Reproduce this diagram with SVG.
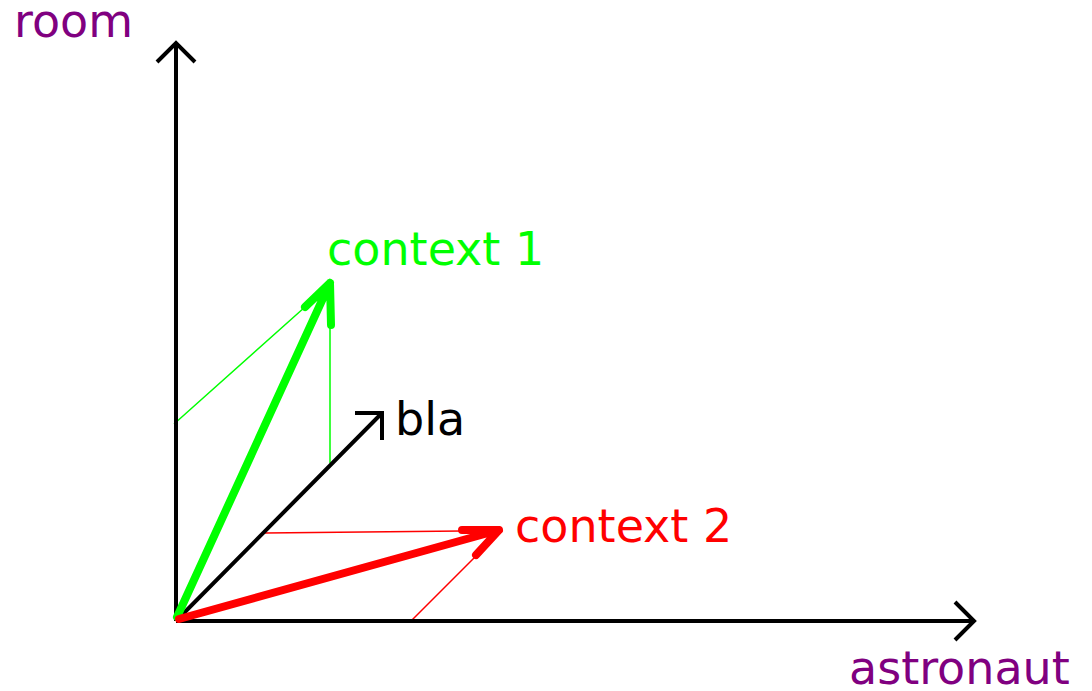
<svg xmlns="http://www.w3.org/2000/svg" width="1092" height="691" viewBox="0 0 1092 691">
<style>
text{font-family:"DejaVu Sans",sans-serif;font-size:46px}
.ax{fill:none;stroke:#000;stroke-width:4}
.thin{fill:none;stroke-width:1.5}
.big{fill:none;stroke-width:8;stroke-linecap:round;stroke-linejoin:round}
</style>
<rect width="1092" height="691" fill="#fff"/>
<g id="connectors">
<path class="thin" stroke="#00ff00" d="M174,424 L305,307 M330,463 L330,326"/>
<path class="thin" stroke="#ff0000" d="M265,533 L462,531 M411,621 L477,555"/>
<path class="ax" d="M176,621 L176,43 M157,62 L176,43 L195,62"/>
<path class="ax" d="M176,621 L974,621 M955,602 L974,621 L955,640"/>
<path class="ax" d="M176,621 L382,413 M355,413 L382,413 L382,440"/>
<path class="big" stroke="#00ff00" d="M177,617 L330,283 M305,307 L330,283 L331,325"/>
<path class="big" stroke="#ff0000" d="M179,619 L499,530 M462,530 L499,530 L476,555"/>
</g>
<g id="room"><text x="14" y="37" fill="#800080">room</text></g>
<g id="astronaut"><text x="849" y="684" fill="#800080">astronaut</text></g>
<g id="context1"><text x="327" y="265" fill="#00ff00">context 1</text></g>
<g id="bla"><text x="395" y="435" fill="#000">bla</text></g>
<g id="context2"><text x="515" y="542" fill="#ff0000">context 2</text></g>
</svg>
